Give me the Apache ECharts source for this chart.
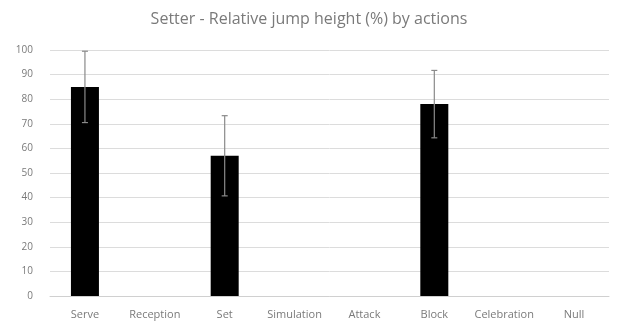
<!DOCTYPE html>
<html>
<head>
<meta charset="utf-8">
<script src="https://cdn.jsdelivr.net/npm/echarts@6/dist/echarts.min.js"></script>
<style>html,body{margin:0;padding:0;background:#fff;}#c{width:618px;height:334px;}</style>
</head>
<body>
<div id="c"></div>
<script>
const categories = ['Serve', 'Reception', 'Set', 'Simulation', 'Attack', 'Block', 'Celebration', 'Null'];
const values = [85, null, 57, null, null, 78, null, null];
const errors = [14.5, null, 16.3, null, null, 13.7, null, null];
const yTicks = [0, 10, 20, 30, 40, 50, 60, 70, 80, 90, 100];

const errData = values.map((v, i) => v == null ? null : [i, v - errors[i], v + errors[i]]).filter(d => d);

const chart = echarts.init(document.getElementById('c'));
chart.setOption({
  animation: false,
  title: {
    text: 'Setter - Relative jump height (%) by actions',
    left: 'center', top: 6,
    textStyle: { fontFamily: 'Open Sans', fontSize: 16, fontWeight: 'normal', color: '#7a7a7a' }
  },
  grid: { left: 50, right: 9, top: 50, bottom: 38 },
  xAxis: {
    type: 'category', data: categories,
    axisLine: { lineStyle: { color: '#d0d0d0' } },
    axisTick: { show: false },
    axisLabel: { interval: 0, color: '#7a7a7a', fontFamily: 'Open Sans', fontSize: 11, margin: 13 }
  },
  yAxis: {
    type: 'value', min: yTicks[0], max: yTicks[yTicks.length - 1], interval: 10,
    axisLine: { show: false }, axisTick: { show: false },
    splitLine: { lineStyle: { color: '#dcdcdc' } },
    axisLabel: { color: '#7a7a7a', fontFamily: 'Open Sans', fontSize: 10, margin: 17 }
  },
  series: [
    {
      type: 'bar', data: values, barWidth: 28,
      itemStyle: { color: '#000' }
    },
    {
      type: 'custom', data: errData,
      renderItem: function (params, api) {
        const x = api.value(0);
        const lo = api.coord([x, api.value(1)]);
        const hi = api.coord([x, api.value(2)]);
        const cap = 3;
        const style = { stroke: '#8a8a8a', lineWidth: 1.2 };
        return {
          type: 'group',
          children: [
            { type: 'line', shape: { x1: hi[0], y1: hi[1], x2: lo[0], y2: lo[1] }, style: style },
            { type: 'line', shape: { x1: hi[0] - cap, y1: hi[1], x2: hi[0] + cap, y2: hi[1] }, style: style },
            { type: 'line', shape: { x1: lo[0] - cap, y1: lo[1], x2: lo[0] + cap, y2: lo[1] }, style: style }
          ]
        };
      },
      z: 10
    }
  ]
});
</script>
</body>
</html>
